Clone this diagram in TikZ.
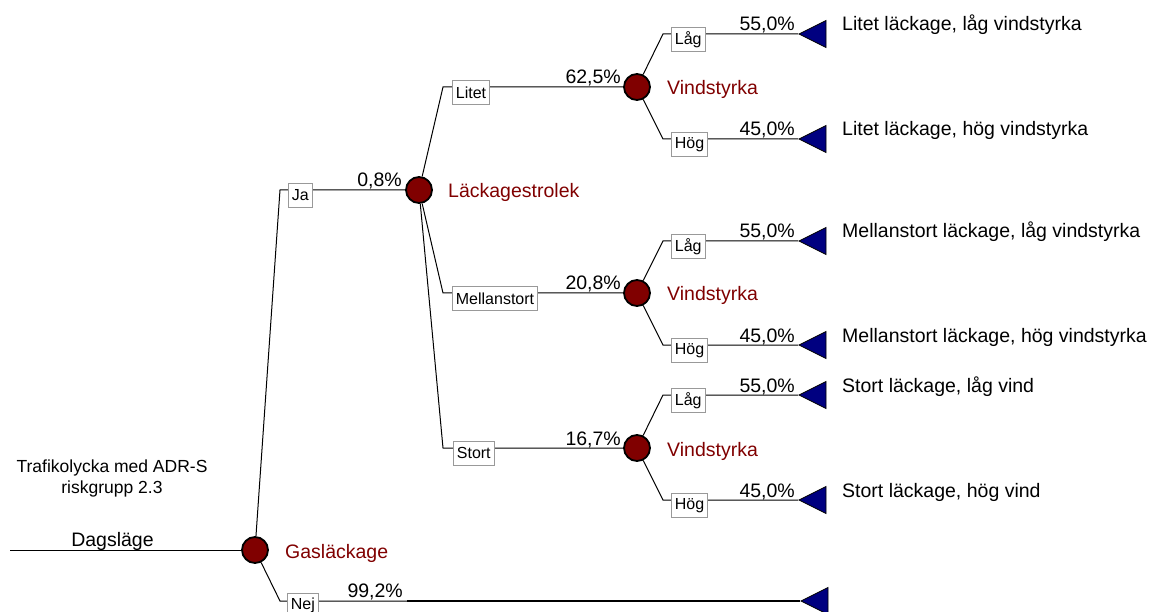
\documentclass[tikz,border=0pt]{standalone}
\usepackage{fontspec}
\setmainfont{Liberation Sans}
\usetikzlibrary{shapes.geometric}
\definecolor{nodered}{HTML}{800000}
\definecolor{termblue}{HTML}{000080}
\definecolor{boxgray}{HTML}{999999}
\begin{document}
\begin{tikzpicture}[x=1pt,y=-1pt,
  chance/.style={circle, minimum size=26pt, inner sep=0pt, fill=nodered, draw=black, line width=1.8pt},
  term/.style={isosceles triangle, isosceles triangle stretches, shape border rotate=180,
    minimum width=27pt, minimum height=27pt, inner sep=0pt, fill=termblue, draw=black,
    line width=0.8pt, anchor=apex},
  branch/.style={draw=black, line width=1pt},
  thickbranch/.style={draw=black, line width=2pt},
  lbl/.style={draw=boxgray, fill=white, line width=0.8pt, font=\fontsize{16}{18}\selectfont,
    inner xsep=3.5pt, inner ysep=0pt, minimum height=24pt, anchor=north west},
  prob/.style={font=\fontsize{19.5}{22}\selectfont, anchor=base east, inner sep=0pt},
  cname/.style={font=\fontsize{19.5}{22}\selectfont, text=nodered, anchor=base west, inner sep=0pt},
  tname/.style={font=\fontsize{19.5}{22}\selectfont, anchor=base west, inner sep=0pt},
  ttl/.style={font=\fontsize{17.5}{21}\selectfont, anchor=base, inner sep=0pt},
]
\useasboundingbox (0,0) rectangle (1151,612);

% ---------- chance nodes ----------
\node[chance] (g) at (255,550) {};
\node[chance] (l) at (419,190) {};
\node[chance] (v1) at (637,87) {};
\node[chance] (v2) at (637,293) {};
\node[chance] (v3) at (637,448) {};

\node[cname] (gn) at (285,558) {Gasläckage};
\node[cname] (ln) at (448,198) {Läckagestrolek};
\node[cname] (v1n) at (667,95) {Vindstyrka};
\node[cname] (v2n) at (667,301) {Vindstyrka};
\node[cname] (v3n) at (667,456) {Vindstyrka};

% ---------- terminal nodes ----------
\node[term] (t11) at (798,34) {};
\node[term] (t12) at (798,139) {};
\node[term] (t21) at (798,241) {};
\node[term] (t22) at (798,345) {};
\node[term] (t31) at (798,395) {};
\node[term] (t32) at (798,500) {};
\node[term] (tn) at (800,601) {};

% ---------- corners ----------
\coordinate (root) at (10,550);
\coordinate (cja) at (280,190);
\coordinate (cnej) at (280,601);
\coordinate (nejmid) at (407,601);
\coordinate (cli) at (443,87);
\coordinate (cme) at (443,293);
\coordinate (cst) at (443,448);
\coordinate (c11) at (663,34);
\coordinate (c12) at (663,139);
\coordinate (c21) at (663,241);
\coordinate (c22) at (663,345);
\coordinate (c31) at (663,395);
\coordinate (c32) at (663,500);

% ---------- connectors ----------
\draw[branch] (root) -- (g);
\draw[branch] (g) -- (cja) -- (l);
\draw[branch] (g) -- (cnej) -- (nejmid);
\draw[thickbranch] (nejmid) -- (tn.apex);
\draw[branch] (l) -- (cli) -- (v1);
\draw[branch] (l) -- (cme) -- (v2);
\draw[branch] (l) -- (cst) -- (v3);
\draw[branch] (v1) -- (c11) -- (t11.apex);
\draw[branch] (v1) -- (c12) -- (t12.apex);
\draw[branch] (v2) -- (c21) -- (t21.apex);
\draw[branch] (v2) -- (c22) -- (t22.apex);
\draw[branch] (v3) -- (c31) -- (t31.apex);
\draw[branch] (v3) -- (c32) -- (t32.apex);

% ---------- branch label boxes ----------
\node[lbl] (bja) at (288,183) {Ja};
\node[lbl] (bnej) at (287,593) {Nej};
\node[lbl] (bli) at (452,80) {Litet};
\node[lbl] (bme) at (452,286) {Mellanstort};
\node[lbl] (bst) at (453,441) {Stort};
\node[lbl] (b11) at (671,27) {Låg};
\node[lbl] (b12) at (671,132) {Hög};
\node[lbl] (b21) at (671,234) {Låg};
\node[lbl] (b22) at (671,338) {Hög};
\node[lbl] (b31) at (671,388) {Låg};
\node[lbl] (b32) at (671,493) {Hög};

% ---------- probabilities ----------
\node[prob] (pja) at (402,187) {0,8\%};
\node[prob] (pnej) at (403,597) {99,2\%};
\node[prob] (pli) at (621,84) {62,5\%};
\node[prob] (pme) at (621,290) {20,8\%};
\node[prob] (pst) at (621,445) {16,7\%};
\node[prob] (p11) at (795,31) {55,0\%};
\node[prob] (p12) at (795,136) {45,0\%};
\node[prob] (p21) at (795,238) {55,0\%};
\node[prob] (p22) at (795,342) {45,0\%};
\node[prob] (p31) at (795,392) {55,0\%};
\node[prob] (p32) at (795,497) {45,0\%};

% ---------- outcome names ----------
\node[tname] (o11) at (842,31) {Litet läckage, låg vindstyrka};
\node[tname] (o12) at (842,136) {Litet läckage, hög vindstyrka};
\node[tname] (o21) at (842,238) {Mellanstort läckage, låg vindstyrka};
\node[tname] (o22) at (842,342) {Mellanstort läckage, hög vindstyrka};
\node[tname] (o31) at (842,392) {Stort läckage, låg vind};
\node[tname] (o32) at (842,497) {Stort läckage, hög vind};

% ---------- root texts ----------
\node[ttl] (title1) at (112,472) {Trafikolycka med ADR-S};
\node[ttl] (title2) at (112,493) {riskgrupp 2.3};
\node[font=\fontsize{19.5}{22}\selectfont, anchor=base, inner sep=0pt] (dag) at (112.5,546) {Dagsläge};
\end{tikzpicture}
\end{document}
